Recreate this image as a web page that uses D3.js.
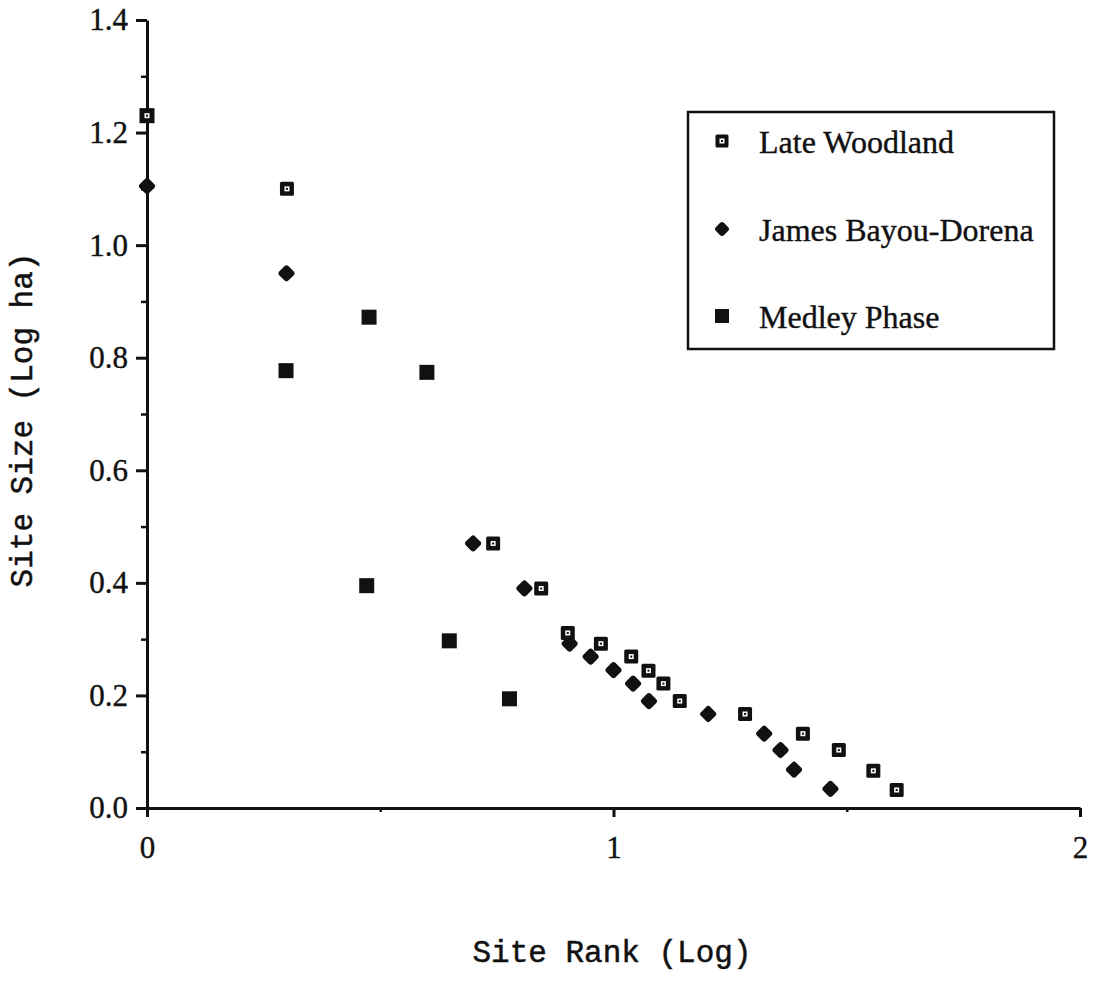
<!DOCTYPE html>
<html>
<head>
<meta charset="utf-8">
<script src="https://cdn.jsdelivr.net/npm/d3@7"></script>
<style>
  body { margin: 0; background: #fff; }
  .tick text { font-family: "Liberation Serif", "Times New Roman", serif; }
</style>
</head>
<body>
<div id="wrapper"></div>
<script>
// Late Woodland (log rank, log ha)
const lateWoodlandX = [0, 0.30, 0.742, 0.845, 0.902, 0.973, 1.038, 1.075, 1.107, 1.142, 1.282, 1.406, 1.483, 1.557, 1.607];
const lateWoodlandY = [1.23, 1.10, 0.470, 0.390, 0.311, 0.292, 0.269, 0.244, 0.221, 0.190, 0.167, 0.132, 0.103, 0.066, 0.032];

// James Bayou-Dorena
const jamesBayouX = [0, 0.299, 0.699, 0.809, 0.906, 0.951, 1.000, 1.042, 1.076, 1.203, 1.323, 1.358, 1.387, 1.465];
const jamesBayouY = [1.105, 0.950, 0.470, 0.390, 0.292, 0.269, 0.245, 0.221, 0.190, 0.167, 0.132, 0.103, 0.068, 0.034];

// Medley Phase
const medleyX = [0, 0.298, 0.476, 0.600, 0.471, 0.648, 0.777];
const medleyY = [1.23, 0.777, 0.872, 0.774, 0.395, 0.297, 0.194];

const seriesNames = ["Late Woodland", "James Bayou-Dorena", "Medley Phase"];
const yMajorTicks = [0, 0.2, 0.4, 0.6, 0.8, 1.0, 1.2, 1.4];
const yMinorTicks = [0.1, 0.3, 0.5, 0.7, 0.9, 1.1, 1.3];
const xMajorTicks = [0, 1, 2];
const xMinorTicks = [0.5, 1.5];
const xLabel = "Site Rank (Log)";
const yLabel = "Site Size (Log ha)";

const width = 1094;
const height = 982;
const ink = "#111";

const svg = d3.select("#wrapper")
  .append("svg")
  .attr("width", width)
  .attr("height", height);

const xScale = d3.scaleLinear().domain([0, 2]).range([147, 1080]);
const yScale = d3.scaleLinear().domain([0, 1.4]).range([808, 20]);

// minor ticks first
svg.append("g")
  .attr("transform", `translate(${xScale(0)},0)`)
  .call(d3.axisLeft(yScale).tickValues(yMinorTicks).tickSize(6).tickFormat(""))
  .call(g => g.select(".domain").remove())
  .call(g => g.selectAll("line").attr("stroke", ink).attr("stroke-width", 2.5));

svg.append("g")
  .attr("transform", `translate(0,${yScale(0)})`)
  .call(d3.axisBottom(xScale).tickValues(xMinorTicks).tickSize(4).tickFormat(""))
  .call(g => g.select(".domain").remove())
  .call(g => g.selectAll("line").attr("stroke", ink).attr("stroke-width", 2.5));

// y axis
svg.append("g")
  .attr("transform", `translate(${xScale(0)},0)`)
  .call(d3.axisLeft(yScale).tickValues(yMajorTicks).tickSize(11).tickSizeOuter(0)
    .tickPadding(8).tickFormat(d3.format(".1f")))
  .call(g => g.select(".domain").attr("stroke", ink).attr("stroke-width", 3))
  .call(g => g.selectAll("line").attr("stroke", ink).attr("stroke-width", 3))
  .call(g => g.selectAll("text").attr("font-size", 31).attr("fill", ink)
    .attr("stroke", ink).attr("stroke-width", 0.4));

// x axis
svg.append("g")
  .attr("transform", `translate(0,${yScale(0)})`)
  .call(d3.axisBottom(xScale).tickValues(xMajorTicks).tickSize(9).tickSizeOuter(0)
    .tickPadding(19).tickFormat(d3.format("d")))
  .call(g => g.select(".domain").attr("stroke", ink).attr("stroke-width", 3))
  .call(g => g.selectAll("line").attr("stroke", ink).attr("stroke-width", 3))
  .call(g => g.selectAll("text").attr("font-size", 31).attr("fill", ink)
    .attr("stroke", ink).attr("stroke-width", 0.4));

// axis titles
svg.append("text")
  .attr("x", 612)
  .attr("y", 962)
  .attr("text-anchor", "middle")
  .attr("font-family", "'Liberation Mono', 'Courier New', monospace")
  .attr("font-size", 31)
  .attr("fill", ink)
  .attr("stroke", ink)
  .attr("stroke-width", 0.5)
  .text(xLabel);

svg.append("text")
  .attr("transform", "translate(32,420) rotate(-90)")
  .attr("text-anchor", "middle")
  .attr("font-family", "'Liberation Mono', 'Courier New', monospace")
  .attr("font-size", 31)
  .attr("fill", ink)
  .attr("stroke", ink)
  .attr("stroke-width", 0.5)
  .text(yLabel);

// marker drawers
function drawFilledSquare(sel, size) {
  sel.append("rect")
    .attr("x", -size / 2).attr("y", -size / 2)
    .attr("width", size).attr("height", size)
    .attr("fill", ink);
}
function drawOpenSquare(sel, size) {
  sel.append("rect")
    .attr("x", -size / 2).attr("y", -size / 2)
    .attr("width", size).attr("height", size)
    .attr("rx", 1.5)
    .attr("fill", ink);
  sel.append("rect")
    .attr("x", -2.5).attr("y", -2.5).attr("width", 5).attr("height", 5)
    .attr("fill", "#fff");
  sel.append("rect")
    .attr("x", -1).attr("y", -1).attr("width", 2).attr("height", 2)
    .attr("fill", ink);
}
function drawDiamond(sel, size) {
  sel.append("rect")
    .attr("x", -size / 2).attr("y", -size / 2)
    .attr("width", size).attr("height", size)
    .attr("rx", 3)
    .attr("transform", "rotate(45)")
    .attr("fill", ink);
}

const medleyData = medleyX.map((x, i) => ({ x, y: medleyY[i] }));
const jamesData = jamesBayouX.map((x, i) => ({ x, y: jamesBayouY[i] }));
const woodlandData = lateWoodlandX.map((x, i) => ({ x, y: lateWoodlandY[i] }));

svg.append("g").selectAll("g")
  .data(medleyData)
  .join("g")
  .attr("transform", d => `translate(${xScale(d.x)},${yScale(d.y)})`)
  .each(function () { drawFilledSquare(d3.select(this), 15); });

svg.append("g").selectAll("g")
  .data(jamesData)
  .join("g")
  .attr("transform", d => `translate(${xScale(d.x)},${yScale(d.y)})`)
  .each(function () { drawDiamond(d3.select(this), 13); });

svg.append("g").selectAll("g")
  .data(woodlandData)
  .join("g")
  .attr("transform", d => `translate(${xScale(d.x)},${yScale(d.y)})`)
  .each(function () { drawOpenSquare(d3.select(this), 14); });

// legend
const legend = svg.append("g");
legend.append("rect")
  .attr("x", 688).attr("y", 112)
  .attr("width", 366).attr("height", 237)
  .attr("fill", "#fff")
  .attr("stroke", ink)
  .attr("stroke-width", 2.5);

const legendRows = [
  { name: seriesNames[0], draw: s => drawOpenSquare(s, 13), cy: 141 },
  { name: seriesNames[1], draw: s => drawDiamond(s, 11.5), cy: 229 },
  { name: seriesNames[2], draw: s => drawFilledSquare(s, 14), cy: 316 }
];

legendRows.forEach(r => {
  const g = legend.append("g").attr("transform", `translate(722,${r.cy})`);
  r.draw(g);
  legend.append("text")
    .attr("x", 759)
    .attr("y", r.cy + 12)
    .attr("font-family", "'Liberation Serif', 'Times New Roman', serif")
    .attr("font-size", 32)
    .attr("fill", ink)
    .attr("stroke", ink)
    .attr("stroke-width", 0.4)
    .text(r.name);
});
</script>
</body>
</html>
